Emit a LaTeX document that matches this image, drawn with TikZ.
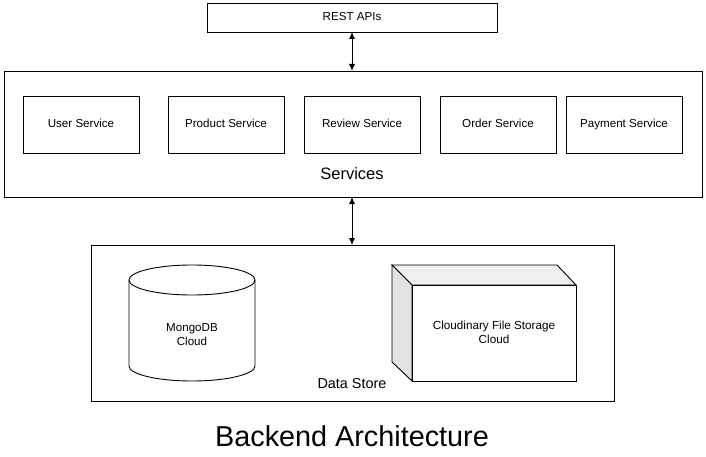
\documentclass[tikz,border=0pt]{standalone}
\usepackage{fontspec}
\setmainfont{Liberation Sans}
\usetikzlibrary{arrows.meta}
\begin{document}
\begin{tikzpicture}[x=1pt,y=-1pt,line width=0.9pt,
  box/.style={draw=black,fill=white,rectangle,inner sep=0pt},
  svc/.style={box,minimum width=116pt,minimum height=57pt,text height=8.5pt,text depth=2.5pt,font=\fontsize{11.6}{13.5}\selectfont},
  lbl/.style={inner sep=0pt,align=center},
  biarrow/.style={{Latex[length=7pt,width=6pt]}-{Latex[length=7pt,width=6pt]},line width=0.9pt}]
\useasboundingbox (0,0) rectangle (706,457);
\fill[white] (0,0) rectangle (706,457);
% REST
\node[box,minimum width=290pt,minimum height=29pt,text height=8.5pt,text depth=2.5pt,font=\fontsize{11.6}{13.5}\selectfont] (rest) at (352,17.5) {REST APIs};
% Services
\node[box,minimum width=698pt,minimum height=126pt] (services) at (353,134) {};
\node[lbl,font=\fontsize{16.5}{19}\selectfont] (servicesl) at (352,174) {Services};
\node[svc] (user) at (81,124.5) {User Service};
\node[svc] (product) at (226,124.5) {Product Service};
\node[svc] (review) at (362,124.5) {Review Service};
\node[svc] (order) at (498,124.5) {Order Service};
\node[svc] (payment) at (624,124.5) {Payment Service};
% Data store
\node[box,minimum width=523pt,minimum height=156pt] (store) at (352.5,323) {};
\node[lbl,font=\fontsize{14.4}{17}\selectfont] (storel) at (352,384) {Data Store};
% arrows
\coordinate (a1t) at (352,32);
\coordinate (a1b) at (352,71);
\coordinate (a2t) at (352,197);
\coordinate (a2b) at (352,245);
\draw[biarrow] (a1t) -- (a1b);
\draw[biarrow] (a2t) -- (a2b);
% cylinder
\draw[fill=white] (129,280) -- (129,366) arc[start angle=180,end angle=0,x radius=63,y radius=15] -- (255,280) arc[start angle=0,end angle=-180,x radius=63,y radius=15] -- cycle;
\draw (129,280) arc[start angle=180,end angle=0,x radius=63,y radius=15];
\node[lbl,font=\fontsize{11.6}{14}\selectfont] (mongo) at (192,335) {MongoDB\\Cloud};
% cube
\draw[fill=gray!12] (392,265) -- (557,265) -- (576,285) -- (412,285) -- cycle;
\draw[fill=gray!22] (392,265) -- (412,285) -- (412,381) -- (392,362) -- cycle;
\draw[fill=white] (412,285) rectangle (576,381);
\node[lbl,font=\fontsize{11.7}{14}\selectfont] (cloudinary) at (494,332.5) {Cloudinary File Storage\\Cloud};
% title
\node[lbl,font=\fontsize{28.8}{33}\selectfont] (title) at (352,436) {Backend Architecture};
\end{tikzpicture}
\end{document}
